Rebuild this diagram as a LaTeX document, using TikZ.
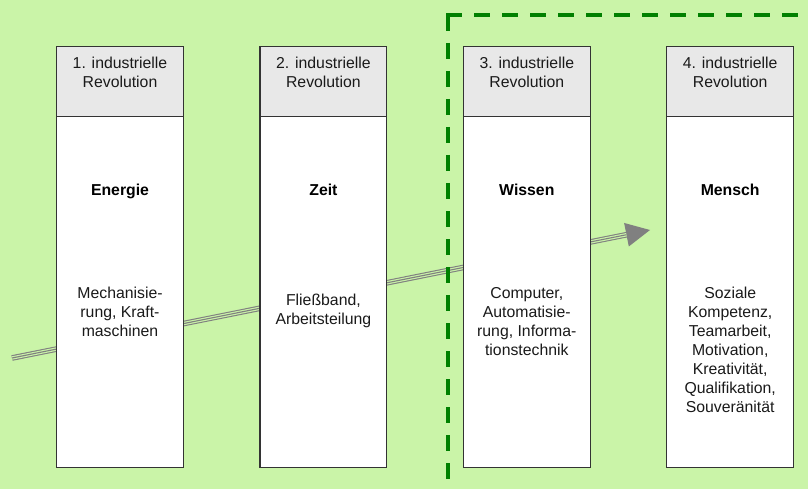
\documentclass[tikz,border=0pt]{standalone}
\usepackage{fontspec}
\setmainfont{Liberation Sans}
\usepackage{tikz}
\usetikzlibrary{arrows.meta,positioning}
\definecolor{irBack}{HTML}{CAF4A8}
\definecolor{irHead}{HTML}{E8E8E8}
\definecolor{irLine}{HTML}{333333}
\definecolor{irZone}{HTML}{008000}
\definecolor{irTrail}{HTML}{808080}
\definecolor{irInk}{HTML}{1A1A1A}

\begin{document}
\begin{tikzpicture}[
  x=1pt, y=-1pt,
  node distance=76.7pt,
  head/.style={
    rectangle,
    draw=irLine,
    fill=irHead,
    line width=1.2pt,
    minimum width=126.7pt,
    minimum height=70pt,
    inner sep=0pt,
    outer sep=0pt
  },
  body/.style={head, fill=white, minimum height=350.6pt},
  txt/.style={align=center, inner sep=0pt, text=irInk, font=\fontsize{15.8}{19}\selectfont},
  lead/.style={txt, text=black, font=\fontsize{15.8}{19}\selectfont\bfseries},
  zone/.style={draw=irZone, line width=4pt, dash pattern=on 16pt off 12pt},
  trail/.style={draw=irTrail, line width=5.6pt}
]
  \fill[irBack] (0,0) rectangle (808,489);
  \useasboundingbox (0,0) rectangle (808,489);

  % development arrow behind the columns
  \coordinate (start) at (12,358);
  \coordinate (tip) at (650,230);
  \draw[trail, -{Triangle[length=24pt, width=24pt, line width=0pt]}] (start) -- (tip);
  \draw[draw=irBack, line width=3.4pt, shorten >=24pt] (start) -- (tip);
  \draw[draw=irTrail, line width=1.1pt, shorten >=24pt] (start) -- (tip);

  % dashed border around the last two stages
  \coordinate (corner) at (448.3,15);
  \draw[zone] (corner) -- (448.3,489) ([xshift=-2pt]corner) -- (808,15);

  \node[head] (h1) at (120,81.7) {};
  \node[head, right=of h1] (h2) {};
  \node[head, right=of h2] (h3) {};
  \node[head, right=of h3] (h4) {};

  \node[body, below=0pt of h1] (b1) {};
  \node[body, below=0pt of h2] (b2) {};
  \node[body, below=0pt of h3] (b3) {};
  \node[body, below=0pt of h4] (b4) {};

  \node[txt, anchor=north] (t1) at ([yshift=-10.4pt]h1.north) {1. industrielle\\Revolution};
  \node[txt, anchor=north] (t2) at ([yshift=-10.4pt]h2.north) {2. industrielle\\Revolution};
  \node[txt, anchor=north] (t3) at ([yshift=-10.4pt]h3.north) {3. industrielle\\Revolution};
  \node[txt, anchor=north] (t4) at ([yshift=-10.4pt]h4.north) {4. industrielle\\Revolution};

  \node[lead, anchor=base] (k1) at ([yshift=-79pt]b1.north) {Energie};
  \node[lead, anchor=base] (k2) at ([yshift=-79pt]b2.north) {Zeit};
  \node[lead, anchor=base] (k3) at ([yshift=-79pt]b3.north) {Wissen};
  \node[lead, anchor=base] (k4) at ([yshift=-79pt]b4.north) {Mensch};

  \node[txt, anchor=north] (d1) at ([yshift=-170.4pt]b1.north)
    {Mechanisie-\\rung, Kraft-\\maschinen};
  \node[txt, anchor=north] (d2) at ([yshift=-176.7pt]b2.north)
    {Fließband,\\Arbeitsteilung};
  \node[txt, anchor=north] (d3) at ([yshift=-170.4pt]b3.north)
    {Computer,\\Automatisie-\\rung, Informa-\\tionstechnik};
  \node[txt, anchor=north] (d4) at ([yshift=-170.4pt]b4.north)
    {Soziale\\Kompetenz,\\Teamarbeit,\\Motivation,\\Kreativität,\\Qualifikation,\\Souveränität};
\end{tikzpicture}
\end{document}
